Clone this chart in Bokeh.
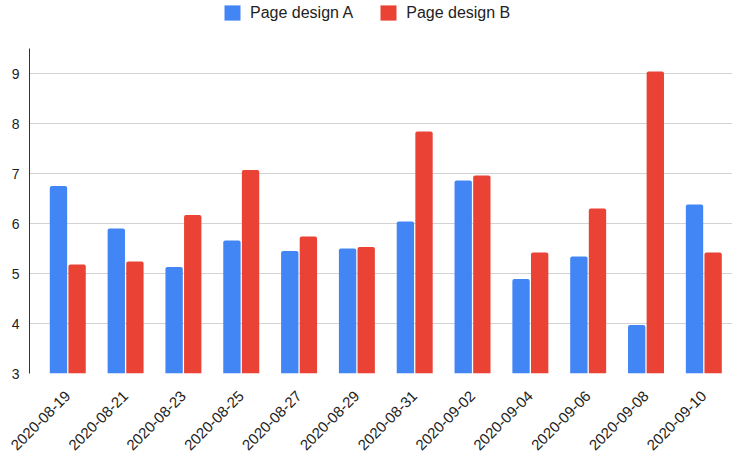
from bokeh.plotting import figure
from bokeh.models import Range1d, FixedTicker, Legend, LegendItem, ColumnDataSource
from bokeh.embed import file_html
from bokeh.resources import INLINE
import math

dates = ["2020-08-19", "2020-08-21", "2020-08-23", "2020-08-25", "2020-08-27", "2020-08-29",
         "2020-08-31", "2020-09-02", "2020-09-04", "2020-09-06", "2020-09-08", "2020-09-10"]
design_a = [6.75, 5.90, 5.13, 5.66, 5.45, 5.50, 6.04, 6.86, 4.89, 5.34, 3.97, 6.38]
design_b = [5.18, 5.24, 6.17, 7.07, 5.74, 5.53, 7.84, 6.96, 5.42, 6.30, 9.04, 5.42]
y_ticks = [3, 4, 5, 6, 7, 8, 9]
y_min, y_axis_top = 3, 9.5

idx = list(range(len(dates)))
src = ColumnDataSource(dict(
    xa=[i - 0.161 for i in idx],
    xb=[i + 0.161 for i in idx],
    a=design_a,
    b=design_b,
))

FONT = "Liberation Sans"

# frame spans the full top so the legend (drawn in the frame) is visible
p = figure(width=732, height=457, output_backend="svg", toolbar_location=None,
           x_range=Range1d(-0.662, 11.496), y_range=Range1d(y_min, 10.46),
           min_border_left=29, min_border_right=0, min_border_top=0, min_border_bottom=83)
p.outline_line_color = None
p.background_fill_color = "white"
p.border_fill_color = "white"

ra = p.vbar(x="xa", top="a", bottom=y_min, width=0.30, source=src,
            fill_color="#4285F4", line_color=None, border_radius=(2, 2, 0, 0))
rb = p.vbar(x="xb", top="b", bottom=y_min, width=0.30, source=src,
            fill_color="#EA4335", line_color=None, border_radius=(2, 2, 0, 0))

# axes
p.xaxis.ticker = FixedTicker(ticks=idx)
p.xaxis.major_label_overrides = {i: d for i, d in zip(idx, dates)}
p.xaxis.major_label_orientation = math.pi / 4
p.xaxis.axis_line_color = None
p.xaxis.major_tick_line_color = None
p.xaxis.minor_tick_line_color = None
p.xaxis.major_tick_out = 0
p.xaxis.major_tick_in = 0
p.xaxis.major_label_standoff = 20
p.xaxis.major_label_text_font = FONT
p.xaxis.major_label_text_font_size = "15px"
p.xaxis.major_label_text_color = "#222222"

p.yaxis.ticker = FixedTicker(ticks=y_ticks)
p.yaxis.bounds = (y_min, y_axis_top)
p.yaxis.axis_line_color = "#333333"
p.yaxis.axis_line_width = 1
p.yaxis.major_tick_line_color = None
p.yaxis.minor_tick_line_color = None
p.yaxis.major_tick_out = 0
p.yaxis.major_tick_in = 0
p.yaxis.major_label_standoff = 10
p.yaxis.major_label_text_font = FONT
p.yaxis.major_label_text_font_size = "14px"
p.yaxis.major_label_text_color = "#222222"

p.xgrid.grid_line_color = None
p.ygrid.grid_line_color = "#d3d3d3"
p.ygrid.grid_line_width = 1
p.ygrid.ticker = FixedTicker(ticks=y_ticks)

legend = Legend(items=[LegendItem(label="Page design A", renderers=[ra]),
                       LegendItem(label="Page design B", renderers=[rb])],
                orientation="horizontal", location=(193, 351),
                glyph_width=20, glyph_height=19, label_height=19,
                label_standoff=8, spacing=25, padding=0, margin=0,
                border_line_color=None, background_fill_alpha=0,
                label_text_font=FONT, label_text_font_size="16px",
                label_text_color="#222222")
p.add_layout(legend, "center")

open("out.html", "w").write(file_html(p, INLINE))
